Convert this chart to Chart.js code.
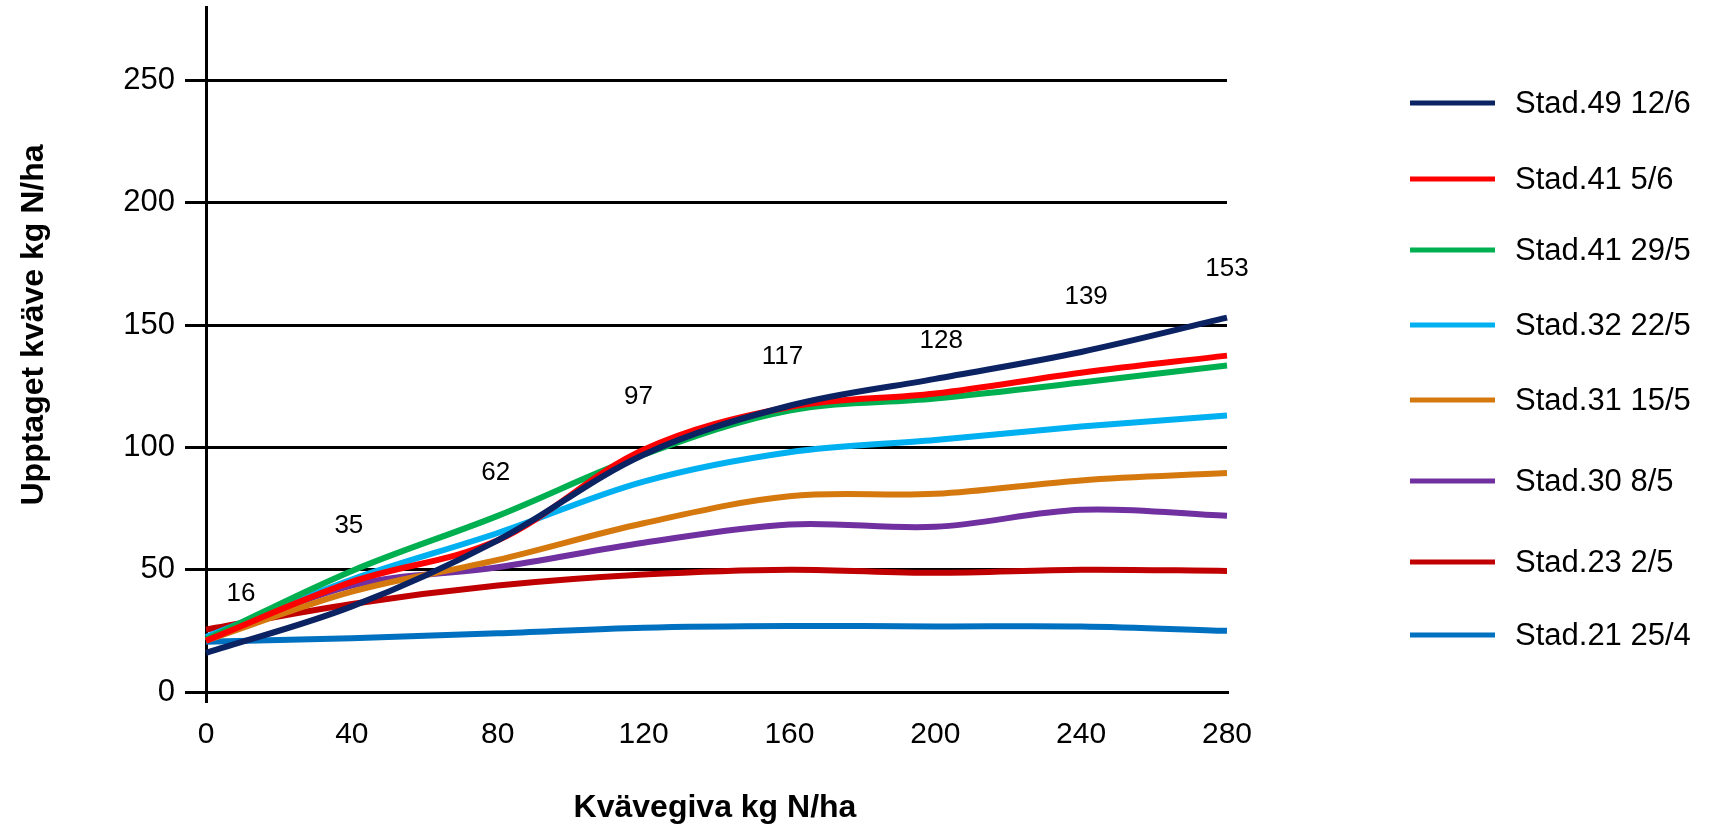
<!DOCTYPE html>
<html>
<head>
<meta charset="utf-8">
<script src="https://cdn.jsdelivr.net/npm/chart.js@4.4.1/dist/chart.umd.min.js"></script>
<style>
  html, body { margin: 0; padding: 0; background: #ffffff; }
  canvas { display: block; }
</style>
</head>
<body>
<canvas id="chart" width="1717" height="827"></canvas>
<script>
// Nitrogen dose (kg N/ha)
const doses = [0, 40, 80, 120, 160, 200, 240, 280];

// Nitrogen uptake (kg N/ha) per growth stage and sampling date
const stad49_12_6 = [16, 35, 62, 97, 117, 128, 139, 153];
const stad41_5_6  = [21, 45, 62, 99, 116.5, 122, 130.5, 137.5];
const stad41_29_5 = [21.5, 49.5, 72, 97, 115, 120, 126.5, 133.5];
const stad32_22_5 = [22.5, 46, 65, 86, 98, 103, 108.5, 113];
const stad31_15_5 = [21, 41, 54, 69, 80, 81, 86.5, 89.5];
const stad30_8_5  = [21, 43.5, 51, 61, 68.5, 67.5, 74.5, 72];
const stad23_2_5  = [25.5, 36, 43.5, 48, 50, 48.7, 50, 49.5];
const stad21_25_4 = [20.5, 22, 24, 26.3, 27, 26.8, 26.8, 25];

const seriesNames = [
  'Stad.49 12/6', 'Stad.41 5/6', 'Stad.41 29/5', 'Stad.32 22/5',
  'Stad.31 15/5', 'Stad.30 8/5', 'Stad.23 2/5', 'Stad.21 25/4'
];
const seriesValues = [
  stad49_12_6, stad41_5_6, stad41_29_5, stad32_22_5,
  stad31_15_5, stad30_8_5, stad23_2_5, stad21_25_4
];
const seriesColors = [
  '#0b2263', '#ff0000', '#00b050', '#00b0f0',
  '#d5790f', '#7030a0', '#c00000', '#0070c0'
];

const yTicks = [0, 50, 100, 150, 200, 250];
const xTicks = [0, 40, 80, 120, 160, 200, 240, 280];

const xTitle = 'Kvävegiva kg N/ha';
const yTitle = 'Upptaget kväve kg N/ha';

const FONT = '"Liberation Sans", Arial, Helvetica, sans-serif';

// Placement of the value labels relative to their points (pixels)
const labelDx = [35, -3, -2, -5, -7, 6, 5, 0];
const labelDy = [-59, -81, -67, -58, -49, -38, -55, -49];

const datasets = seriesNames.map((name, i) => ({
  label: name,
  data: doses.map((d, j) => ({ x: d, y: seriesValues[i][j] })),
  borderColor: seriesColors[i],
  backgroundColor: seriesColors[i],
  borderWidth: 6,
  pointRadius: 0,
  pointHoverRadius: 0,
  tension: 0.35,
  fill: false,
  clip: 12
}));

// Axis titles drawn at fixed spots around the plot
const axisTitles = {
  id: 'axisTitles',
  afterDraw(chart) {
    const ctx = chart.ctx;
    ctx.save();
    ctx.fillStyle = '#000';
    ctx.font = 'bold 32px ' + FONT;
    ctx.textAlign = 'center';
    ctx.textBaseline = 'middle';
    ctx.fillText(xTitle, 715, 808);
    ctx.translate(34, 325);
    ctx.rotate(-Math.PI / 2);
    ctx.fillText(yTitle, 0, 0);
    ctx.restore();
  }
};

// Values of the first series written above its points
const valueLabels = {
  id: 'valueLabels',
  afterDatasetsDraw(chart) {
    const ctx = chart.ctx;
    const meta = chart.getDatasetMeta(0);
    ctx.save();
    ctx.fillStyle = '#000';
    ctx.font = '26px ' + FONT;
    ctx.textAlign = 'center';
    ctx.textBaseline = 'middle';
    meta.data.forEach((pt, i) => {
      ctx.fillText(String(stad49_12_6[i]), pt.x + labelDx[i], pt.y + labelDy[i]);
    });
    ctx.restore();
  }
};

// Legend column on the right
const sideLegend = {
  id: 'sideLegend',
  afterDraw(chart) {
    const ctx = chart.ctx;
    const rows = [103, 179, 250, 325, 400, 481, 562, 635];
    ctx.save();
    ctx.font = '31px ' + FONT;
    ctx.textAlign = 'left';
    ctx.textBaseline = 'middle';
    chart.data.datasets.forEach((ds, i) => {
      const y = rows[i];
      ctx.strokeStyle = ds.borderColor;
      ctx.lineWidth = 5;
      ctx.beginPath();
      ctx.moveTo(1410, y);
      ctx.lineTo(1495, y);
      ctx.stroke();
      ctx.fillStyle = '#000';
      ctx.fillText(ds.label, 1515, y + 1);
    });
    ctx.restore();
  }
};

new Chart(document.getElementById('chart'), {
  type: 'line',
  data: { datasets },
  options: {
    responsive: false,
    animation: false,
    layout: { padding: { top: 7, right: 490, left: 0, bottom: 0 } },
    plugins: {
      legend: { display: false },
      tooltip: { enabled: false },
      title: { display: false }
    },
    scales: {
      x: {
        type: 'linear',
        min: 0,
        max: 280,
        afterBuildTicks(scale) {
          scale.ticks = xTicks.map(v => ({ value: v }));
        },
        afterFit(scale) {
          scale.height = 135;
          scale.paddingLeft = 0;
          scale.paddingRight = 0;
        },
        ticks: {
          color: '#000',
          font: { family: FONT, size: 30 },
          padding: 14,
          maxRotation: 0,
          autoSkip: false
        },
        grid: {
          drawOnChartArea: false,
          drawTicks: true,
          tickLength: 11,
          lineWidth: 3,
          color: ctx => (ctx.tick && ctx.tick.value === 0) ? '#000' : 'rgba(0,0,0,0)'
        },
        border: { display: true, color: '#000', width: 3 }
      },
      y: {
        type: 'linear',
        min: 0,
        max: 280,
        afterBuildTicks(scale) {
          scale.ticks = yTicks.map(v => ({ value: v }));
        },
        afterFit(scale) {
          scale.width = 206;
          scale.paddingTop = 0;
          scale.paddingBottom = 0;
        },
        ticks: {
          color: '#000',
          font: { family: FONT, size: 31 },
          padding: 10
        },
        grid: {
          drawTicks: true,
          tickLength: 21,
          lineWidth: 3,
          color: '#000'
        },
        border: { display: true, color: '#000', width: 3 }
      }
    }
  },
  plugins: [axisTitles, valueLabels, sideLegend]
});
</script>
</body>
</html>
